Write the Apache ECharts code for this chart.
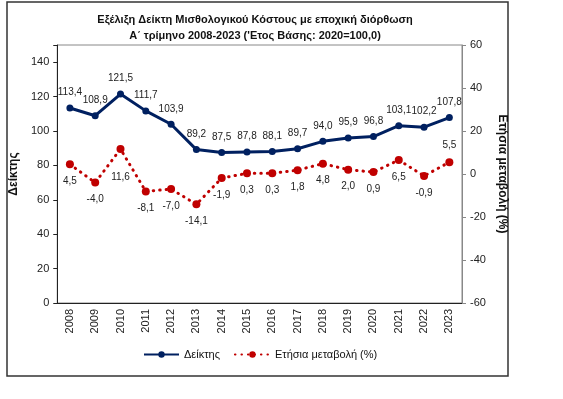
<!DOCTYPE html>
<html>
<head>
<meta charset="utf-8">
<script src="https://cdn.jsdelivr.net/npm/echarts@6/dist/echarts.min.js"></script>
<style>
  html, body { margin: 0; padding: 0; background: #fff; }
  #chart { width: 563px; height: 399px; }
</style>
</head>
<body>
<div id="chart"></div>
<script>
// δεδομένα
const years = ['2008', '2009', '2010', '2011', '2012', '2013', '2014', '2015',
  '2016', '2017', '2018', '2019', '2020', '2021', '2022', '2023'];
const indexValues = [113.4, 108.9, 121.5, 111.7, 103.9, 89.2, 87.5, 87.8,
  88.1, 89.7, 94.0, 95.9, 96.8, 103.1, 102.2, 107.8];
const changeValues = [4.5, -4.0, 11.6, -8.1, -7.0, -14.1, -1.9, 0.3,
  0.3, 1.8, 4.8, 2.0, 0.9, 6.5, -0.9, 5.5];

const fmt = (v) => v.toFixed(1).replace('.', ',');
const font = 'Liberation Sans, Arial, sans-serif';

const chart = echarts.init(document.getElementById('chart'));

const option = {
  animation: false,
  textStyle: { fontFamily: font },
  title: {
    text: 'Εξέλιξη Δείκτη Μισθολογικού Κόστους με εποχική διόρθωση\nΑ΄ τρίμηνο 2008-2023 (\'Ετος Βάσης: 2020=100,0)',
    left: 250,
    top: 7,
    textAlign: 'center',
    textStyle: {
      fontSize: 11,
      fontWeight: 'bold',
      color: '#111',
      lineHeight: 16,
      fontFamily: font,
    },
  },
  legend: {
    bottom: 34,
    left: 138,
    itemWidth: 35,
    itemHeight: 8,
    itemGap: 14,
    textStyle: { fontSize: 11, color: '#111', fontFamily: font },
    data: ['Δείκτης', 'Ετήσια μεταβολή (%)'],
  },
  grid: {
    left: 55,
    right: 101,
    top: 45,
    bottom: 96,
    show: true,
    borderColor: '#888',
    borderWidth: 1,
  },
  graphic: [
    {
      type: 'rect',
      shape: { x: 7, y: 2, width: 501, height: 374 },
      style: { fill: 'none', stroke: '#333', lineWidth: 1.5 },
      silent: true,
    },
  ],
  xAxis: {
    type: 'category',
    data: years,
    boundaryGap: true,
    axisLine: { lineStyle: { color: '#222', width: 1 } },
    axisTick: { alignWithLabel: false, inside: false, length: 4, lineStyle: { color: '#222' } },
    axisLabel: { rotate: 90, interval: 0, fontSize: 11, color: '#222', margin: 6 },
  },
  yAxis: [
    {
      type: 'value',
      min: 0,
      max: 150,
      interval: 20,
      name: 'Δείκτης',
      nameLocation: 'middle',
      nameGap: 32,
      nameTextStyle: { fontSize: 12, fontWeight: 'bold', color: '#111' },
      splitLine: { show: false },
      axisLine: { show: true, lineStyle: { color: '#222', width: 1 } },
      axisTick: { show: true, length: 4, lineStyle: { color: '#222' } },
      axisLabel: {
        fontSize: 11,
        color: '#222',
        formatter: (v) => (v > 140 ? '' : v),
      },
    },
    {
      type: 'value',
      min: -60,
      max: 60,
      interval: 20,
      position: 'right',
      name: 'Ετήσια μεταβολή (%)',
      nameLocation: 'middle',
      nameRotate: -90,
      nameGap: 30,
      nameTextStyle: { fontSize: 12, fontWeight: 'bold', color: '#111' },
      splitLine: { show: false },
      axisLine: { show: true, lineStyle: { color: '#888', width: 1 } },
      axisTick: { show: true, length: 4, lineStyle: { color: '#888' } },
      axisLabel: { fontSize: 11, color: '#222', margin: 8 },
    },
  ],
  series: [
    {
      name: 'Δείκτης',
      type: 'line',
      yAxisIndex: 0,
      data: indexValues,
      symbol: 'circle',
      symbolSize: 7,
      lineStyle: { color: '#002060', width: 3 },
      itemStyle: { color: '#002060' },
      label: {
        show: true,
        position: 'top',
        distance: 7,
        fontSize: 10,
        color: '#222',
        formatter: (p) => fmt(p.value),
      },
      z: 3,
    },
    {
      name: 'Ετήσια μεταβολή (%)',
      type: 'line',
      yAxisIndex: 1,
      data: changeValues.map((v, i) => {
        const item = { value: v, label: { position: 'bottom' } };
        if (i === changeValues.length - 1) item.label.position = 'top';
        if (i === 2) item.label.distance = 19;
        return item;
      }),
      symbol: 'circle',
      symbolSize: 8,
      lineStyle: { color: '#C00000', width: 3, type: [0.5, 6], cap: 'round' },
      itemStyle: { color: '#C00000' },
      label: {
        show: true,
        distance: 8,
        fontSize: 10,
        color: '#222',
        formatter: (p) => fmt(p.value),
      },
      z: 2,
    },
  ],
};

chart.setOption(option);
</script>
</body>
</html>
